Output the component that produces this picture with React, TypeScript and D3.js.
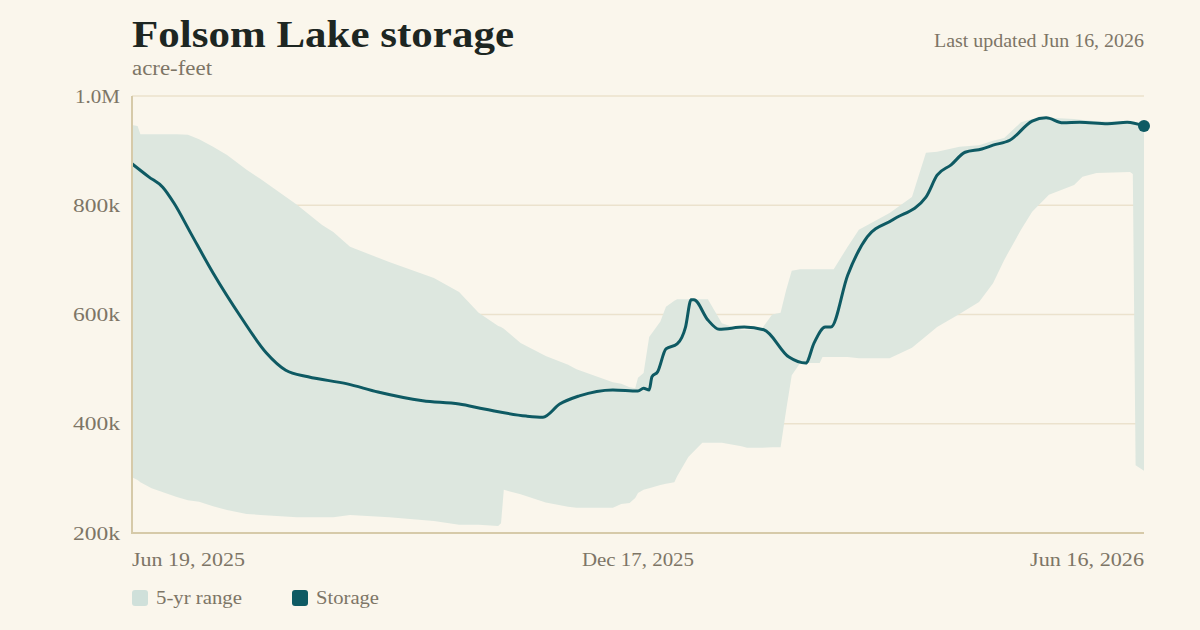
import React from "react";
import * as d3 from "d3";

// Daily storage readings, thousands of acre-feet
const storageDates = [
  "2025-06-19", "2025-06-25", "2025-06-30", "2025-07-04", "2025-07-10", "2025-07-18",
  "2025-07-28", "2025-08-06", "2025-08-13", "2025-08-21", "2025-09-04", "2025-09-15",
  "2025-10-01", "2025-10-14", "2025-10-23", "2025-11-07", "2025-11-13", "2025-11-19",
  "2025-11-26", "2025-12-08", "2025-12-17", "2025-12-19", "2025-12-21", "2025-12-22",
  "2025-12-24", "2025-12-27", "2025-12-31", "2026-01-03", "2026-01-05", "2026-01-06",
  "2026-01-11", "2026-01-15", "2026-01-24", "2026-01-31", "2026-02-09", "2026-02-15",
  "2026-02-18", "2026-02-22", "2026-02-24", "2026-03-02", "2026-03-09", "2026-03-18",
  "2026-03-30", "2026-04-03", "2026-04-08", "2026-04-13", "2026-04-19", "2026-04-23",
  "2026-04-29", "2026-05-07", "2026-05-12", "2026-05-18", "2026-05-24", "2026-06-03",
  "2026-06-10", "2026-06-16",
];
const storageValues = [
  876, 852, 833, 804, 749, 676,
  595, 530, 498, 486, 473, 458,
  442, 436, 427, 414, 412, 436,
  451, 462, 460, 465, 462, 486,
  495, 537, 546, 577, 627, 627,
  590, 573, 577, 572, 522, 511,
  548, 577, 577, 672, 742, 773,
  815, 855, 874, 897, 903, 910,
  919, 954, 960, 951, 952, 949,
  952, 945,
];

// Five-year min / max envelope, thousands of acre-feet
const rangeDates = [
  "2025-06-19", "2025-06-21", "2025-06-22", "2025-06-26", "2025-07-05", "2025-07-09",
  "2025-07-13", "2025-07-18", "2025-07-23", "2025-07-30", "2025-08-04", "2025-08-17",
  "2025-08-26", "2025-08-30", "2025-09-05", "2025-09-19", "2025-10-05", "2025-10-14",
  "2025-10-21", "2025-10-28", "2025-10-29", "2025-10-30", "2025-11-05", "2025-11-14",
  "2025-11-22", "2025-11-25", "2025-12-08", "2025-12-11", "2025-12-14", "2025-12-16",
  "2025-12-17", "2025-12-19", "2025-12-21", "2025-12-25", "2025-12-27", "2025-12-30",
  "2025-12-31", "2026-01-04", "2026-01-09", "2026-01-11", "2026-01-16", "2026-01-23",
  "2026-01-25", "2026-01-30", "2026-02-03", "2026-02-06", "2026-02-08", "2026-02-10",
  "2026-02-13", "2026-02-20", "2026-02-21", "2026-02-25", "2026-03-02", "2026-03-06",
  "2026-03-17", "2026-03-25", "2026-03-30", "2026-04-03", "2026-04-11", "2026-04-18",
  "2026-04-23", "2026-04-27", "2026-05-03", "2026-05-07", "2026-05-13", "2026-05-22",
  "2026-05-25", "2026-05-30", "2026-06-11", "2026-06-12", "2026-06-13", "2026-06-16",
];
const rangeMax = [
  947, 945, 930, 930, 930, 929,
  921, 907, 892, 865, 848, 801,
  764, 751, 724, 696, 667, 641,
  603, 579, 577, 574, 548, 524,
  508, 500, 476, 473, 467, 465,
  484, 493, 559, 587, 614, 625,
  628, 628, 628, 628, 584, 572,
  572, 572, 600, 603, 645, 680,
  683, 683, 683, 683, 724, 755,
  786, 815, 896, 898, 907, 910,
  918, 923, 952, 958, 960, 958,
  956, 954, 954, 952, 952, 952,
];
const rangeMin = [
  302, 297, 293, 282, 266, 260,
  257, 249, 242, 235, 233, 229,
  229, 229, 233, 229, 222, 215,
  215, 213, 218, 279, 271, 256,
  248, 246, 246, 253, 255, 264,
  273, 279, 282, 288, 290, 293,
  304, 339, 365, 365, 365, 359,
  356, 356, 357, 357, 425, 489,
  511, 511, 522, 522, 522, 520,
  520, 539, 560, 577, 601, 623,
  657, 700, 755, 788, 819, 837,
  852, 859, 861, 857, 324, 314,
];

const yTicks = [200, 400, 600, 800, 1000];
const yTickLabels = ["200k", "400k", "600k", "800k", "1.0M"];
const xTickDates = ["2025-06-19", "2025-12-17", "2026-06-16"];
const xTickLabels = ["Jun 19, 2025", "Dec 17, 2025", "Jun 16, 2026"];

const W = 1200;
const H = 630;
const M = { left: 132, right: 56, top: 96, bottom: 97 };

const BG = "#faf6ec";
const BAND = "#dde7df";
const BAND_KEY = "#cfe0da";
const LINE = "#0e5a63";
const INK = "#1d2622";
const MUTED = "#7d7566";
const GRID = "#ebe2cd";
const AXIS = "#d6caa9";
const FONT = "Georgia, 'Liberation Serif', 'DejaVu Serif', serif";

const parse = d3.utcParse("%Y-%m-%d");

// Set-width text so the serif face keeps the proportions of the layout
function Label(props: {
  x: number;
  y: number;
  size: number;
  width: number;
  anchor?: "start" | "middle" | "end";
  weight?: number;
  fill: string;
  dy?: string;
  children: string;
}) {
  return (
    <text
      x={props.x}
      y={props.y}
      dy={props.dy}
      fontSize={props.size}
      fontWeight={props.weight ?? 400}
      fill={props.fill}
      textAnchor={props.anchor ?? "start"}
      textLength={props.width}
      lengthAdjust="spacingAndGlyphs"
    >
      {props.children}
    </text>
  );
}

export default function App() {
  const x = d3
    .scaleUtc()
    .domain([parse(xTickDates[0])!, parse(xTickDates[2])!])
    .range([M.left, W - M.right]);
  const y = d3.scaleLinear().domain([200, 1000]).range([H - M.bottom, M.top]);

  const storage = storageDates.map((d, i) => ({ date: parse(d)!, v: storageValues[i] }));
  const band = rangeDates.map((d, i) => ({ date: parse(d)!, hi: rangeMax[i], lo: rangeMin[i] }));

  const area = d3
    .area<{ date: Date; hi: number; lo: number }>()
    .x((d) => x(d.date))
    .y0((d) => y(d.lo))
    .y1((d) => y(d.hi));

  const line = d3
    .line<{ date: Date; v: number }>()
    .x((d) => x(d.date))
    .y((d) => y(d.v))
    .curve(d3.curveMonotoneX);

  const last = storage[storage.length - 1];
  const x0 = M.left;
  const x1 = W - M.right;
  const yBottom = H - M.bottom;
  const xTickWidths = [113, 112, 114];

  return (
    <svg
      width={W}
      height={H}
      viewBox={`0 0 ${W} ${H}`}
      style={{ position: "absolute", left: 0, top: 0, display: "block", background: BG }}
      fontFamily={FONT}
    >
      <rect width={W} height={H} fill={BG} />

      <Label x={x0} y={47} size={37} weight={700} width={382} fill={INK}>
        Folsom Lake storage
      </Label>
      <Label x={x0} y={75} size={20} width={80} fill={MUTED}>
        acre-feet
      </Label>
      <Label x={x1} y={47} size={18} width={210} anchor="end" fill={MUTED}>
        Last updated Jun 16, 2026
      </Label>

      {/* gridlines */}
      {yTicks.map((t) => (
        <line key={t} x1={x0} x2={x1} y1={y(t)} y2={y(t)} stroke={GRID} strokeWidth={1.5} />
      ))}

      <path d={area(band) ?? ""} fill={BAND} />
      <path d={line(storage) ?? ""} fill="none" stroke={LINE} strokeWidth={3} strokeLinejoin="round" />
      <circle cx={x(last.date)} cy={y(last.v)} r={6} fill={LINE} />

      {/* axes */}
      <line x1={x0} x2={x0} y1={M.top} y2={yBottom + 1} stroke={AXIS} strokeWidth={2} />
      <line x1={x0} x2={x1} y1={yBottom} y2={yBottom} stroke={AXIS} strokeWidth={2} />

      {yTicks.map((t, i) => (
        <Label
          key={t}
          x={x0 - 12}
          y={y(t)}
          dy="0.35em"
          size={19}
          width={t === 1000 ? 45 : 47}
          anchor="end"
          fill={MUTED}
        >
          {yTickLabels[i]}
        </Label>
      ))}

      {xTickDates.map((d, i) => (
        <Label
          key={d}
          x={x(parse(d)!)}
          y={566}
          size={19}
          width={xTickWidths[i]}
          anchor={i === 0 ? "start" : i === xTickDates.length - 1 ? "end" : "middle"}
          fill={MUTED}
        >
          {xTickLabels[i]}
        </Label>
      ))}

      {/* legend */}
      <rect x={x0} y={590} width={16} height={16} rx={3} fill={BAND_KEY} />
      <Label x={156} y={604} size={19} width={86} fill={MUTED}>
        5-yr range
      </Label>
      <rect x={292} y={590} width={16} height={16} rx={3} fill={LINE} />
      <Label x={316} y={604} size={19} width={63} fill={MUTED}>
        Storage
      </Label>
    </svg>
  );
}
